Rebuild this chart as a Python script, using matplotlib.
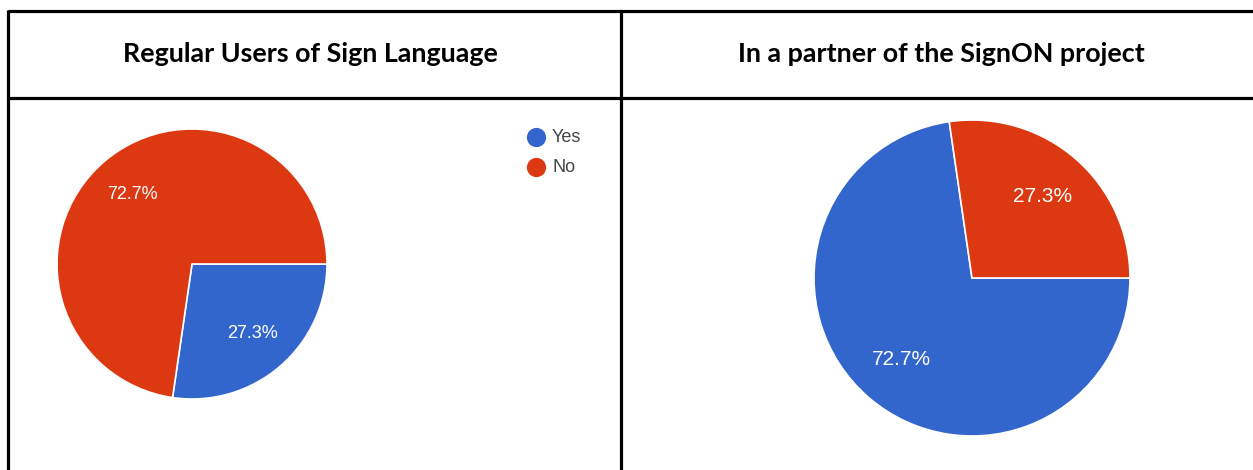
import matplotlib.pyplot as plt

# Data
labels = ["Yes", "No"]
regular_users = [27.3, 72.7]
signon_partner = [72.7, 27.3]
titles = ["Regular Users of Sign Language", "In a partner of the SignON project"]
colors = ["#3366cc", "#dc3912"]

W, H = 1253, 470
fig = plt.figure(figsize=(W / 100, H / 100), dpi=100)

# background axes in pixel coordinates for the table grid
bg = fig.add_axes([0, 0, 1, 1])
bg.set_xlim(0, W)
bg.set_ylim(H, 0)
bg.axis("off")

lw = 2.3
bg.plot([7.5, W], [11, 11], color="black", lw=lw, solid_capstyle="butt")
bg.plot([7.5, W], [98, 98], color="black", lw=lw, solid_capstyle="butt")
bg.plot([7.5, 7.5], [10, H], color="black", lw=lw, solid_capstyle="butt")
bg.plot([621, 621], [10, H], color="black", lw=lw, solid_capstyle="butt")

bg.text(310, 54, titles[0], ha="center", va="center", fontsize=19.4,
        fontweight="bold", family="Lato")
bg.text(941, 54, titles[1], ha="center", va="center", fontsize=19.4,
        fontweight="bold", family="Lato")


def pie_axes(cx, cy, r):
    return fig.add_axes([(cx - r) / W, (H - cy - r) / H, 2 * r / W, 2 * r / H])


def draw_pie(ax, values, fs):
    wedges, _, autotexts = ax.pie(
        values, colors=colors, startangle=0, counterclock=False,
        autopct="%.1f%%", pctdistance=0.68, radius=1,
        wedgeprops=dict(edgecolor="white", linewidth=1.2),
        textprops=dict(color="white", fontsize=fs, family="Liberation Sans"))
    ax.set_xlim(-1, 1)
    ax.set_ylim(-1, 1)
    ax.set_aspect("equal")
    ax.axis("off")
    return wedges


ax1 = pie_axes(192, 264, 135)
draw_pie(ax1, regular_users, 13)

ax2 = pie_axes(972, 278, 158)
draw_pie(ax2, signon_partner, 15)

# legend for the left chart
for i, lab in enumerate(labels):
    y = 137 + 30 * i
    bg.scatter([536], [y], s=165, color=colors[i], zorder=5)
    bg.text(552, y, lab, ha="left", va="center", fontsize=13,
            color="#444444", family="Liberation Sans")

fig.savefig("out.png", dpi=100)
